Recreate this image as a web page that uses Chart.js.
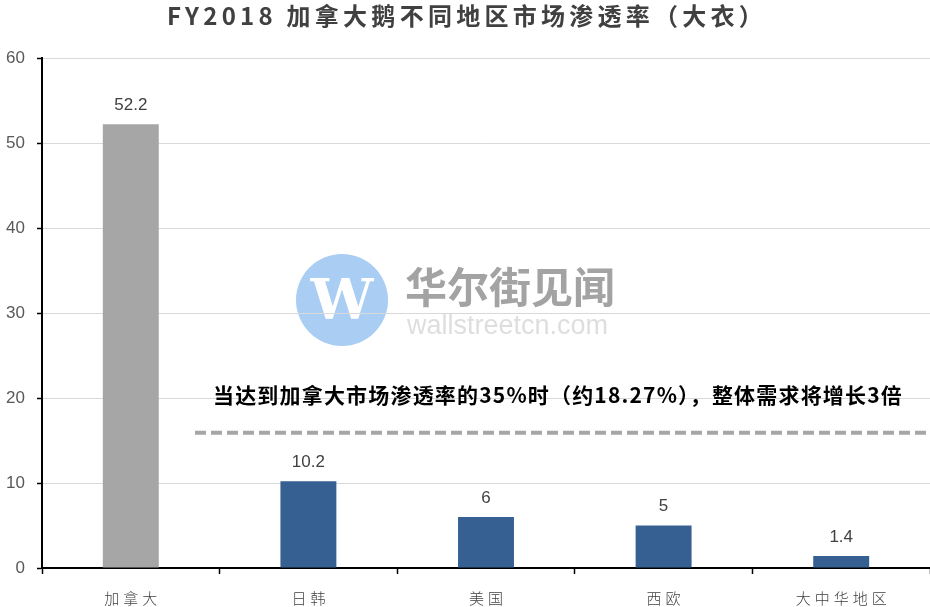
<!DOCTYPE html>
<html>
<head>
<meta charset="utf-8">
<script src="https://cdn.jsdelivr.net/npm/chart.js@4.4.1/dist/chart.umd.min.js"></script>
<style>
  html, body { margin: 0; padding: 0; background: #fff; }
  canvas { display: block; }
</style>
</head>
<body>
<canvas id="grafico" width="930" height="607"></canvas>
<script>
// data
const categories = ['加拿大', '日韩', '美国', '西欧', '大中华地区'];
const penetration = [52.2, 10.2, 6, 5, 1.4];
const barColors = ['#a6a6a6', '#376092', '#376092', '#376092', '#376092'];
const yMin = 0, yMax = 60, yStep = 10;
const targetLevel = 15.9;
const titleText = 'FY2018 加拿大鹅不同地区市场渗透率（大衣）';
const noteText = '当达到加拿大市场渗透率的35%时（约18.27%），整体需求将增长3倍';

const CJK = '"Noto Sans CJK SC", "Noto Sans", sans-serif';

// draw text left-aligned at x so it spans targetW, spreading with letter spacing
function spreadText(ctx, text, x, y, targetW) {
  ctx.letterSpacing = '0px';
  const w = ctx.measureText(text).width;
  const n = [...text].length;
  const ls = (targetW - w) / n;
  ctx.letterSpacing = ls + 'px';
  ctx.textAlign = 'left';
  ctx.fillText(text, x, y);
  ctx.letterSpacing = '0px';
}

const extras = {
  id: 'extras',
  beforeDraw(chart) {
    // watermark
    const ctx = chart.ctx;
    ctx.save();
    ctx.fillStyle = '#a9cdf3';
    ctx.beginPath();
    ctx.arc(342, 300, 46, 0, Math.PI * 2);
    ctx.fill();
    ctx.fillStyle = '#fff';
    ctx.font = 'bold 56px "DejaVu Serif", serif';
    ctx.textAlign = 'center';
    ctx.textBaseline = 'middle';
    ctx.fillText('W', 342, 304);
    ctx.fillStyle = '#a3a3a3';
    ctx.font = 'bold 42px ' + CJK;
    ctx.textAlign = 'left';
    ctx.fillText('华尔街见闻', 405, 287, 212);
    ctx.fillStyle = '#dedede';
    ctx.font = '27px "Liberation Sans", Arial, sans-serif';
    ctx.fillText('wallstreetcn.com', 407, 327, 212);
    ctx.restore();
  },
  afterDatasetsDraw(chart) {
    const ctx = chart.ctx;
    const meta = chart.getDatasetMeta(0);
    ctx.save();
    ctx.fillStyle = '#404040';
    ctx.font = '17px "Liberation Sans", Arial, sans-serif';
    ctx.textAlign = 'center';
    ctx.textBaseline = 'middle';
    meta.data.forEach((bar, i) => {
      ctx.fillText(String(penetration[i]), bar.x, bar.y - 19);
    });
    ctx.restore();
  },
  afterDraw(chart) {
    const ctx = chart.ctx;
    const area = chart.chartArea;
    const x = chart.scales.x;
    const y = chart.scales.y;
    ctx.save();

    // title
    ctx.fillStyle = '#404040';
    ctx.font = 'bold 24px ' + CJK;
    ctx.textBaseline = 'middle';
    spreadText(ctx, titleText, 167, 16, 600);

    // category labels
    ctx.fillStyle = '#404040';
    ctx.font = '300 15px ' + CJK;
    categories.forEach((c, i) => {
      const cx = x.getPixelForValue(i);
      ctx.letterSpacing = '4px';
      const w = ctx.measureText(c).width - 4;
      ctx.textAlign = 'left';
      ctx.fillText(c, cx - w / 2, 598);
    });
    ctx.letterSpacing = '0px';

    // dashed target line
    const ly = y.getPixelForValue(targetLevel);
    ctx.strokeStyle = '#a6a6a6';
    ctx.lineWidth = 4;
    ctx.setLineDash([11, 5]);
    ctx.beginPath();
    ctx.moveTo(area.left + 153, ly);
    ctx.lineTo(area.right, ly);
    ctx.stroke();
    ctx.setLineDash([]);

    // note
    ctx.fillStyle = '#000';
    ctx.font = 'bold 21px ' + CJK;
    spreadText(ctx, noteText, 213, 395, 690);

    ctx.restore();
  }
};

const ctx = document.getElementById('grafico').getContext('2d');

const myChart = new Chart(ctx, {
  type: 'bar',
  data: {
    labels: categories,
    datasets: [{
      data: penetration,
      backgroundColor: barColors,
      borderWidth: 0,
      barPercentage: 0.315,
      categoryPercentage: 1
    }]
  },
  plugins: [extras],
  options: {
    responsive: false,
    animation: false,
    layout: { padding: { top: 58, right: 0, left: 0, bottom: 0 } },
    plugins: {
      legend: { display: false },
      title: { display: false },
      tooltip: { enabled: false }
    },
    scales: {
      x: {
        offset: true,
        grid: {
          offset: true,
          drawOnChartArea: false,
          tickLength: 6,
          tickColor: '#000',
          tickWidth: 1.5
        },
        border: { color: '#000', width: 2 },
        ticks: { display: false },
        afterFit: (s) => { s.height = 39; }
      },
      y: {
        min: yMin,
        max: yMax,
        grid: {
          color: '#d9d9d9',
          lineWidth: 1,
          tickLength: 5,
          tickColor: '#000',
          tickWidth: 1.5
        },
        border: { color: '#000', width: 2 },
        ticks: {
          stepSize: yStep,
          padding: 12,
          color: '#595959',
          font: { family: '"Liberation Sans", Arial, sans-serif', size: 17 }
        },
        afterFit: (s) => { s.width = 42; }
      }
    }
  }
});
</script>
</body>
</html>
